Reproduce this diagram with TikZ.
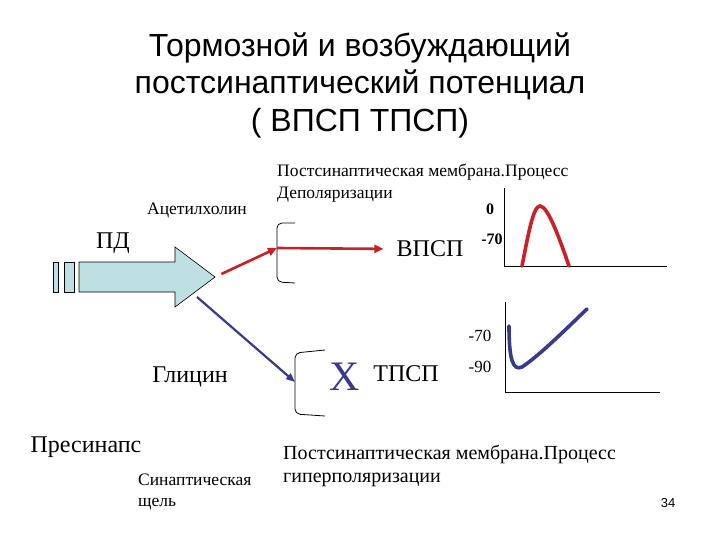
\documentclass[tikz,border=0pt]{standalone}
\usepackage{fontspec}
\setmainfont{Liberation Serif}
\newfontfamily\headfont{Liberation Sans}
\usetikzlibrary{arrows.meta,positioning}
\definecolor{mRed}{HTML}{CC2027}
\definecolor{mNavy}{HTML}{3A3A8C}
\definecolor{mShaft}{HTML}{BFE0E2}

\begin{document}
\begin{tikzpicture}[x=1pt,y=-1pt,
  txt/.style={inner sep=0pt,align=left},
  ax/.style={line width=0.9pt,black},
  brk/.style={line width=0.8pt,black,rounded corners=5pt},
  redarr/.style={-{Triangle[length=9pt,width=8pt]},line width=2.6pt,mRed},
  bluearr/.style={-{Triangle[length=9pt,width=7pt]},line width=2.2pt,mNavy},
  curve/.style={line width=3.6pt,line cap=round}
]
\fill[white] (0,0) rectangle (720,540);
\useasboundingbox (0,0) rectangle (720,540);

% title
\node[font=\headfont\fontsize{32}{37.5}\selectfont,align=center] (title) at (360,85)
  {Тормозной и возбуждающий\\постсинаптический потенциал\\( ВПСП ТПСП)};

% action potential arrow
\fill[mShaft,draw=black,line width=0.6pt] (79,262) -- (175,262) -- (175,247) -- (215,277)
  -- (175,307) -- (175,292) -- (79,292) -- cycle;
\filldraw[fill=mShaft,draw=black,line width=0.6pt] (53,262) rectangle (58,292);
\filldraw[fill=mShaft,draw=black,line width=0.6pt] (64,262) rectangle (74,292);
\coordinate (tip) at (215,277);
\coordinate (glyout) at (197,297);
\node[txt,font=\fontsize{24}{28}\selectfont] (pd) at (113,243) {ПД};

% labels
\node[txt,font=\fontsize{17.5}{20}\selectfont] (ach) at (197,210) {Ацетилхолин};
\node[txt,font=\fontsize{17.5}{22}\selectfont,anchor=north west] (memdep) at (277,163.5)
  {Постсинаптическая мембрана.Процесс\\Деполяризации};
\node[txt,font=\fontsize{24}{28}\selectfont] (gly) at (190,377) {Глицин};

% brackets
\draw[brk] (295,223) -- (277,223) -- (277,282) -- (295,283);
\draw[brk] (325,350) -- (295,353) -- (295,414) -- (325,416);
\coordinate (hub1) at (277,248);
\coordinate (hub2) at (295,382);

% outputs
\node[txt,font=\fontsize{24}{28}\selectfont] (epsp) at (430,249) {ВПСП};
\node[txt,font=\fontsize{42}{46}\selectfont,text=mNavy] (xmark) at (345,377) {Х};
\node[txt,font=\fontsize{24}{28}\selectfont] (ipsp) at (406,374) {ТПСП};

\draw[redarr,shorten <=7pt] (tip) -- (hub1);
\draw[redarr,shorten >=13pt] (hub1) -- (epsp.west);
\draw[bluearr] (glyout) -- (hub2);

% EPSP graph
\draw[ax] (504,188) -- (504,266) -- (667,266);
\node[txt,font=\bfseries\fontsize{16}{18}\selectfont] (zero) at (490,209) {0};
\node[txt,font=\bfseries\fontsize{16}{18}\selectfont] (rest1) at (492,239) {-70};
\draw[curve,mRed] (522,266) .. controls (528,236) and (533,206) .. (540,206)
  .. controls (548,206) and (560,240) .. (569,266);

% IPSP graph
\draw[ax] (505,302) -- (505,392) -- (660,392);
\node[txt,font=\fontsize{17}{19}\selectfont] (rest2) at (480,336) {-70};
\node[txt,font=\fontsize{17}{19}\selectfont] (hyp) at (480,367) {-90};
\draw[curve,mNavy] (509,326) .. controls (509,360) and (513,371) .. (522,367)
  .. controls (540,355) and (565,330) .. (587,309);

% bottom labels
\node[txt,font=\fontsize{24}{28}\selectfont] (presyn) at (86,447) {Пресинапс};
\node[txt,font=\fontsize{17.5}{21}\selectfont,anchor=north west] (cleft) at (138,473.5)
  {Синаптическая\\щель};
\node[txt,font=\fontsize{20}{23}\selectfont,anchor=north west] (memhyp) at (283,444.6)
  {Постсинаптическая мембрана.Процесс\\гиперполяризации};
\node[txt,font=\headfont\fontsize{13}{15}\selectfont] (page) at (668,503) {34};
\end{tikzpicture}
\end{document}
